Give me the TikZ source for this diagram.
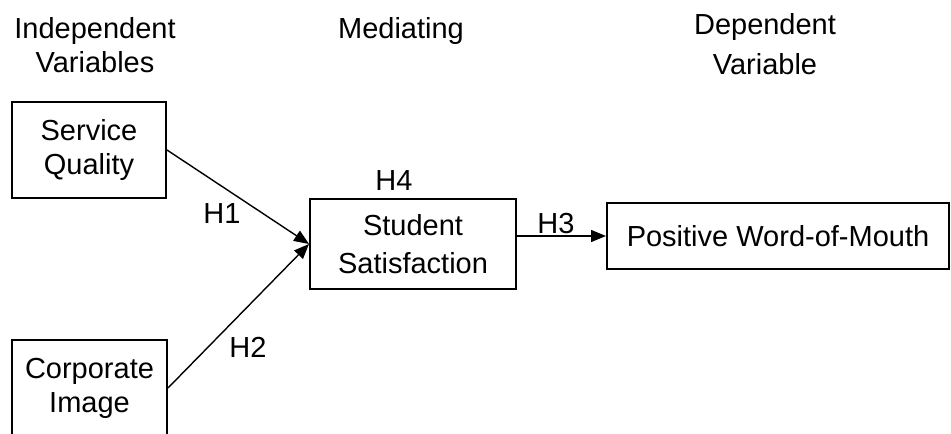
\documentclass[tikz,border=0pt]{standalone}
\usepackage{fontspec}
\setmainfont{Liberation Sans}
\usetikzlibrary{arrows.meta}
\begin{document}
\begin{tikzpicture}[x=0.5pt,y=-0.5pt,font=\fontsize{14.5}{17}\selectfont]
\tikzstyle{varbox}=[draw,line width=1pt,inner sep=0pt,align=center]
\tikzstyle{hyp}=[line width=0.7pt,-{Triangle[length=7.5pt,width=6pt]}]
\tikzstyle{head}=[inner sep=0pt,align=center,anchor=north]
\tikzstyle{lbl}=[inner sep=0pt]
\useasboundingbox (0,0) rectangle (951,433);
\node[head] (h0) at (95,17) {Independent\\Variables};
\node[head] (h1) at (401,17) {Mediating};
\node[head] (h2) at (765,13) {Dependent\\[3pt]Variable};
\node[varbox,minimum width=77pt,minimum height=48pt] (sq) at (89,150) {Service\\Quality};
\node[varbox,minimum width=77.5pt,minimum height=48pt] (ci) at (89.5,388) {Corporate\\Image};
\node[varbox,minimum width=103pt,minimum height=45pt] (ss) at (413,244) {Student\\[2pt]Satisfaction};
\node[varbox,minimum width=171pt,minimum height=33pt] (pw) at (778,236) {Positive Word-of-Mouth};
\node[lbl] (l1) at (222,214) {H1};
\node[lbl] (l2) at (248,347) {H2};
\node[lbl] (l3) at (556,224) {H3};
\node[lbl] (l4) at (394,181) {H4};
\draw[hyp] (sq.east) -- (ss.west);
\draw[hyp] (ci.east) -- (ss.west);
\draw[hyp] (ss.east |- pw.west) -- (pw.west);
\end{tikzpicture}
\end{document}
